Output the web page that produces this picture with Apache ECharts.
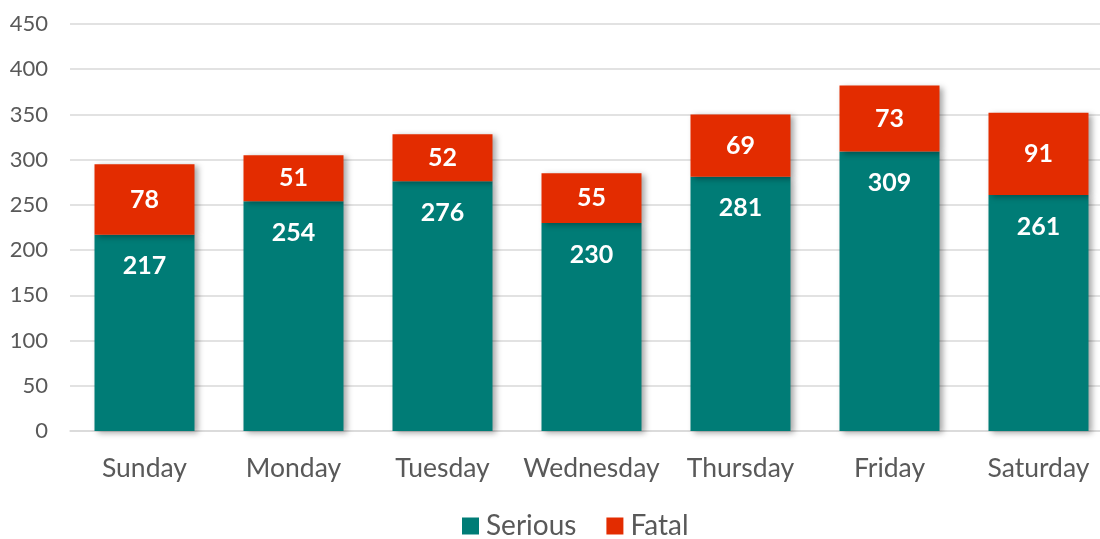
<!DOCTYPE html>
<html>
<head>
<meta charset="utf-8">
<script src="https://cdn.jsdelivr.net/npm/echarts@6/dist/echarts.min.js"></script>
<style>
  html, body { margin: 0; padding: 0; background: #fff; }
  #chart { width: 1100px; height: 539px; }
</style>
</head>
<body>
<div id="chart"></div>
<script>
// 数据
var days = ['Sunday', 'Monday', 'Tuesday', 'Wednesday', 'Thursday', 'Friday', 'Saturday'];
var serious = [217, 254, 276, 230, 281, 309, 261];
var fatal = [78, 51, 52, 55, 69, 73, 91];

var myChart = echarts.init(document.getElementById('chart'));
var fontFamily = 'Lato, "Noto Sans", sans-serif';
var barShadow = {
  shadowColor: 'rgba(0,0,0,0.35)',
  shadowBlur: 6,
  shadowOffsetX: 3,
  shadowOffsetY: 2
};

var option = {
  textStyle: { fontFamily: fontFamily },
  grid: { left: 70, top: 24, width: 1043, height: 407, outerBoundsMode: 'none', containLabel: false },
  legend: {
    top: 507,
    left: 457,
    itemWidth: 17,
    itemHeight: 17,
    itemGap: 30,
    icon: 'rect',
    textStyle: { fontSize: 28, color: '#595959', fontFamily: fontFamily, padding: [0, 0, 0, 2] },
    data: ['Serious', 'Fatal']
  },
  xAxis: {
    type: 'category',
    data: days,
    axisTick: { show: false },
    axisLine: { lineStyle: { color: '#d9d9d9', width: 1.5 } },
    axisLabel: { fontSize: 26.5, color: '#595959', margin: 24, interval: 0 }
  },
  yAxis: {
    type: 'value',
    min: 0,
    max: 450,
    interval: 50,
    axisLine: { show: false },
    axisTick: { show: false },
    splitLine: { lineStyle: { color: '#d9d9d9', width: 1.5 } },
    axisLabel: { fontSize: 22, color: '#595959', margin: 22 }
  },
  series: [
    {
      name: 'Serious',
      type: 'bar',
      stack: 'total',
      barWidth: 100,
      data: serious,
      itemStyle: Object.assign({ color: '#007C76' }, barShadow),
      label: {
        show: true,
        position: 'insideTop',
        distance: 19,
        color: '#fff',
        fontSize: 25,
        fontWeight: 'bold'
      }
    },
    {
      name: 'Fatal',
      type: 'bar',
      stack: 'total',
      barWidth: 100,
      data: fatal,
      itemStyle: Object.assign({ color: '#E32C00' }, barShadow),
      label: {
        show: true,
        position: 'inside',
        color: '#fff',
        fontSize: 25,
        fontWeight: 'bold'
      }
    }
  ]
};
myChart.setOption(option);
</script>
</body>
</html>
